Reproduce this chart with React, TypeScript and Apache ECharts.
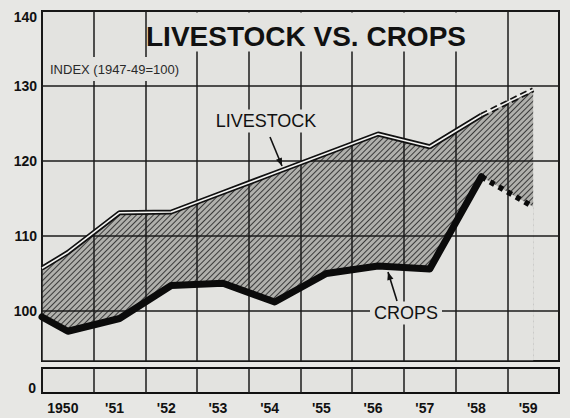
import React, { useEffect, useRef } from "react";
import * as echarts from "echarts";

// ---- data ----
const categories = ["1950", "'51", "'52", "'53", "'54", "'55", "'56", "'57", "'58", "'59"];
const livestock = [107.8, 113.1, 113.2, 115.8, 118.4, 121.0, 123.6, 121.9, 126.1, 129.5];
const crops = [97.3, 99.0, 103.4, 103.7, 101.2, 105.0, 106.0, 105.6, 117.9, 113.9];
// value where each line meets the left frame (half a year before 1950)
const livestockAtLeftEdge = 105.7;
const cropsAtLeftEdge = 99.2;
const upperTicks = [100, 110, 120, 130, 140];
const lowerTicks = [0];
const projectedFrom = 8; // index of '58: '58 -> '59 is projected (dashed)

const FONT = "'Liberation Sans', Arial, sans-serif";
const PAGE_BG = "#e7e7e4";
const PLOT_BG = "#e3e3e0";
const INK = "#111111";

export default function App() {
  const ref = useRef<HTMLDivElement>(null);

  useEffect(() => {
    document.body.style.margin = "0";
    document.body.style.background = PAGE_BG;
    if (!ref.current) return;
    const chart = echarts.init(ref.current, undefined, { renderer: "svg" });

    const pts = (edge: number, vals: number[]) => [[-0.5, edge], ...vals.map((v, i) => [i, v])];
    const lsAll = pts(livestockAtLeftEdge, livestock);
    const crAll = pts(cropsAtLeftEdge, crops);
    const cut = projectedFrom + 1;
    const lsSolid = lsAll.slice(0, cut + 1);
    const lsDash = lsAll.slice(cut);
    const crSolid = crAll.slice(0, cut + 1);
    const crDash = crAll.slice(cut);

    const splitLine = { show: true, lineStyle: { color: "#1b1b1b", width: 1.5 } };
    const labelBase = { color: INK, fontFamily: FONT, fontWeight: "bold" as const, fontSize: 14 };

    const arrowHead = (tip: number[], tail: number[], len = 8, half = 3.2) => {
      const dx = tip[0] - tail[0];
      const dy = tip[1] - tail[1];
      const l = Math.hypot(dx, dy);
      const ux = dx / l, uy = dy / l;
      const bx = tip[0] - ux * len, by = tip[1] - uy * len;
      return [tip, [bx - uy * half, by + ux * half], [bx + uy * half, by - ux * half]];
    };
    const lsArrowTail = [270, 137];
    const lsArrowTip = [282, 166];
    const crArrowTail = [397, 301];
    const crArrowTip = [388, 272];

    chart.setOption({
      animation: false,
      backgroundColor: PAGE_BG,
      grid: [
        { left: 42, right: 11, top: 11, height: 350, show: true, backgroundColor: PLOT_BG, borderColor: INK, borderWidth: 2 },
        { left: 42, right: 11, top: 368, height: 25, show: true, backgroundColor: PLOT_BG, borderColor: INK, borderWidth: 2 },
      ],
      xAxis: [
        {
          gridIndex: 0, type: "category", data: categories, boundaryGap: true, z: 3,
          axisLine: { show: false }, axisTick: { show: false }, axisLabel: { show: false }, splitLine,
        },
        { gridIndex: 0, type: "value", min: -0.5, max: 9.5, show: false },
        {
          gridIndex: 1, type: "category", data: categories, boundaryGap: true,
          axisLine: { show: false }, axisTick: { show: false }, splitLine,
          axisLabel: { ...labelBase, margin: 8, padding: [0, 10, 0, 0] },
        },
      ],
      yAxis: [
        {
          gridIndex: 0, type: "value", min: 93.33, max: 140, splitNumber: 5, z: 3,
          axisLine: { show: false }, axisTick: { show: false }, splitLine,
          axisLabel: {
            ...labelBase, margin: 5,
            formatter: (v: number) => {
              const r = Math.round(v * 100) / 100;
              if (!upperTicks.includes(r)) return "";
              return r === upperTicks[upperTicks.length - 1] ? `{top|${r}}` : String(r);
            },
            rich: { top: { ...labelBase, padding: [12, 0, 0, 0] } },
          },
        },
        {
          gridIndex: 1, type: "value", min: -1, max: 4,
          axisLine: { show: false }, axisTick: { show: false }, splitLine: { show: false },
          axisLabel: { ...labelBase, margin: 6, formatter: (v: number) => (lowerTicks.includes(v) ? String(v) : "") },
        },
      ],
      series: [
        {
          name: "livestockArea", type: "line", xAxisIndex: 1, yAxisIndex: 0,
          data: lsAll, symbol: "none", lineStyle: { width: 0 }, z: 1, silent: true,
          itemStyle: {
            color: "#b0b0ac",
            decal: {
              symbol: "rect", symbolSize: 1, color: "#3a3a3a", backgroundColor: "#b0b0ac",
              dashArrayX: [1, 0], dashArrayY: [1, 2.2], rotation: -Math.PI / 4,
            },
          },
          areaStyle: { color: "#b0b0ac", opacity: 1, origin: "start" },
        },
        {
          name: "cropsArea", type: "line", xAxisIndex: 1, yAxisIndex: 0,
          data: crAll, symbol: "none", lineStyle: { width: 0 }, z: 2, silent: true,
          itemStyle: { color: PLOT_BG },
          areaStyle: { color: PLOT_BG, opacity: 1, origin: "start" },
        },
        {
          name: "Livestock", type: "line", xAxisIndex: 1, yAxisIndex: 0, data: lsSolid, symbol: "none", z: 4,
          lineStyle: { color: INK, width: 5 },
        },
        {
          name: "Livestock inner", type: "line", xAxisIndex: 1, yAxisIndex: 0, data: lsSolid, symbol: "none", z: 5,
          lineStyle: { color: "#f4f4f2", width: 1.6 },
        },
        {
          name: "Livestock projected", type: "line", xAxisIndex: 1, yAxisIndex: 0, data: lsDash, symbol: "none", z: 4,
          lineStyle: { color: INK, width: 5, type: [7, 4] },
        },
        {
          name: "Livestock projected inner", type: "line", xAxisIndex: 1, yAxisIndex: 0, data: lsDash, symbol: "none", z: 5,
          lineStyle: { color: "#f4f4f2", width: 1.6 },
        },
        {
          name: "Crops", type: "line", xAxisIndex: 1, yAxisIndex: 0, data: crSolid, symbol: "none", z: 6,
          lineStyle: { color: "#0b0b0b", width: 7, join: "round", cap: "round" },
        },
        {
          name: "Crops projected", type: "line", xAxisIndex: 1, yAxisIndex: 0, data: crDash, symbol: "none", z: 6,
          lineStyle: { color: "#0b0b0b", width: 5.5, type: [5, 5] },
        },
      ],
      graphic: [
        { type: "rect", z: 20, shape: { x: 147, y: 12.5, width: 313, height: 39 }, style: { fill: PLOT_BG } },
        {
          type: "text", z: 21, x: 306, y: 36,
          style: { text: "LIVESTOCK VS. CROPS", fill: INK, font: `bold 28px ${FONT}`, align: "center", verticalAlign: "middle" },
        },
        { type: "rect", z: 20, shape: { x: 43, y: 57, width: 150, height: 24 }, style: { fill: PLOT_BG } },
        {
          type: "text", z: 21, x: 50, y: 69,
          style: { text: "INDEX (1947-49=100)", fill: "#2a2a2a", font: `13px ${FONT}`, align: "left", verticalAlign: "middle" },
        },
        {
          type: "text", z: 21, x: 266, y: 121,
          style: {
            text: "LIVESTOCK", fill: INK, font: `18px ${FONT}`, align: "center", verticalAlign: "middle",
            backgroundColor: PLOT_BG, padding: [3, 4, 2, 4],
          },
        },
        {
          type: "line", z: 21,
          shape: { x1: lsArrowTail[0], y1: lsArrowTail[1], x2: lsArrowTip[0], y2: lsArrowTip[1] },
          style: { stroke: INK, lineWidth: 1.6 },
        },
        { type: "polygon", z: 21, shape: { points: arrowHead(lsArrowTip, lsArrowTail) }, style: { fill: INK } },
        {
          type: "text", z: 21, x: 406, y: 313,
          style: {
            text: "CROPS", fill: INK, font: `18px ${FONT}`, align: "center", verticalAlign: "middle",
            backgroundColor: PLOT_BG, padding: [3, 4, 2, 4],
          },
        },
        {
          type: "line", z: 21,
          shape: { x1: crArrowTail[0], y1: crArrowTail[1], x2: crArrowTip[0], y2: crArrowTip[1] },
          style: { stroke: INK, lineWidth: 1.6 },
        },
        { type: "polygon", z: 21, shape: { points: arrowHead(crArrowTip, crArrowTail) }, style: { fill: INK } },
      ],
    });

    return () => chart.dispose();
  }, []);

  return <div ref={ref} style={{ width: 570, height: 418 }} />;
}
